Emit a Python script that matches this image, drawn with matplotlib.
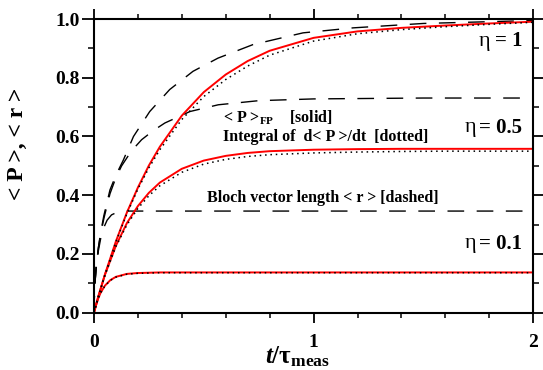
import matplotlib
matplotlib.use("Agg")
import matplotlib.pyplot as plt
from matplotlib.ticker import MultipleLocator

plt.rcParams['font.family'] = ['Liberation Serif', 'DejaVu Serif']
plt.rcParams['font.weight'] = 'bold'
plt.rcParams['mathtext.fontset'] = 'custom'
plt.rcParams['mathtext.rm'] = 'Liberation Serif:bold'
plt.rcParams['mathtext.it'] = 'Liberation Serif:bold:italic'
plt.rcParams['mathtext.bf'] = 'Liberation Serif:bold'

# <P>_FP (solid red) for eta = 1, 0.5, 0.1
t_red = [0, 0.02, 0.05, 0.1, 0.15, 0.2, 0.25, 0.3, 0.4, 0.5, 0.6, 0.7, 0.8,
         1.0, 1.2, 1.4, 1.6, 1.8, 2.0]
p_eta1 = [0, 0.054, 0.130, 0.243, 0.341, 0.426, 0.501, 0.565, 0.671, 0.751,
          0.811, 0.857, 0.892, 0.936, 0.958, 0.970, 0.978, 0.985, 0.991]
p_eta05 = [0, 0.056, 0.129, 0.228, 0.305, 0.363, 0.408, 0.443, 0.490, 0.518,
           0.534, 0.544, 0.550, 0.555, 0.557, 0.558, 0.558, 0.558, 0.558]
t_red01 = [0, 0.01, 0.02, 0.03, 0.05, 0.075, 0.1, 0.15, 0.2, 0.3, 0.5, 1.0, 2.0]
p_eta01 = [0, 0.027, 0.049, 0.067, 0.092, 0.111, 0.122, 0.132, 0.135, 0.137,
           0.137, 0.137, 0.137]

# integral of d<P>/dt (dotted)
i_eta1 = [0, 0.054, 0.129, 0.241, 0.337, 0.421, 0.493, 0.555, 0.658, 0.736,
          0.794, 0.840, 0.877, 0.925, 0.950, 0.964, 0.974, 0.982, 0.989]
i_eta05 = [0, 0.055, 0.127, 0.225, 0.299, 0.355, 0.398, 0.432, 0.478, 0.506,
           0.522, 0.532, 0.538, 0.544, 0.547, 0.549, 0.550, 0.550, 0.550]
i_eta01 = [0, 0.027, 0.048, 0.066, 0.091, 0.110, 0.121, 0.131, 0.134, 0.136,
           0.136, 0.136, 0.136]

# Bloch vector length <r> (dashed)
t_r1 = [0, 0.003, 0.01, 0.02, 0.03, 0.045, 0.073, 0.1, 0.134, 0.18, 0.254,
        0.345, 0.451, 0.565, 0.724, 0.952, 1.18, 1.5, 2.0]
r_eta1 = [0, 0.085, 0.155, 0.22, 0.27, 0.33, 0.418, 0.468, 0.52, 0.60, 0.685,
          0.76, 0.822, 0.867, 0.913, 0.953, 0.970, 0.985, 0.995]
t_r05 = [0, 0.003, 0.01, 0.02, 0.03, 0.045, 0.073, 0.1, 0.126, 0.17, 0.217,
         0.27, 0.323, 0.437, 0.566, 0.75, 1.0, 1.5, 2.0]
r_eta05 = [0, 0.085, 0.155, 0.22, 0.265, 0.32, 0.405, 0.46, 0.50, 0.55, 0.589,
           0.62, 0.646, 0.685, 0.708, 0.722, 0.728, 0.731, 0.731]
t_r01 = [0, 0.003, 0.01, 0.02, 0.03, 0.045, 0.06, 0.08, 0.1, 0.13, 0.16, 0.2, 2.0]
r_eta01 = [0, 0.085, 0.15, 0.21, 0.25, 0.29, 0.315, 0.333, 0.34, 0.344, 0.346,
           0.346, 0.346]

eta_vals = ['1', '0.5', '0.1']
eta_ypos = [0.924, 0.630, 0.234]

fig = plt.figure(figsize=(5.43, 3.70), dpi=100)
ax = fig.add_axes([0.173, 0.155, 0.809, 0.7935])

dash = (0, (12, 9))
dot = (0, (1, 2.5))
for tt, rr in [(t_r1, r_eta1), (t_r05, r_eta05), (t_r01, r_eta01)]:
    ax.plot(tt, rr, color='k', lw=1.0, linestyle=dash)
ax.plot(t_red, p_eta1, color='red', lw=1.4)
ax.plot(t_red, p_eta05, color='red', lw=1.4)
ax.plot(t_red01, p_eta01, color='red', lw=1.4)
ax.plot(t_red, i_eta1, color='k', lw=1.1, linestyle=dot)
ax.plot(t_red, i_eta05, color='k', lw=1.1, linestyle=dot)
ax.plot(t_red01, i_eta01, color='k', lw=1.1, linestyle=dot)

ax.set_xlim(0, 2)
ax.set_ylim(0, 1)
ax.xaxis.set_major_locator(MultipleLocator(1))
ax.xaxis.set_minor_locator(MultipleLocator(0.2))
ax.yaxis.set_major_locator(MultipleLocator(0.2))
ax.yaxis.set_minor_locator(MultipleLocator(0.1))
ax.xaxis.set_major_formatter(plt.FormatStrFormatter('%d'))
ax.yaxis.set_major_formatter(plt.FormatStrFormatter('%.1f'))
for s in ax.spines.values():
    s.set_linewidth(1.5)
ax.tick_params(which='major', direction='out', width=1.3, color='k',
               top=True, right=True)
ax.tick_params(which='minor', direction='out', width=1.1, color='k',
               top=True, right=True)
ax.tick_params(axis='x', which='major', length=7.5, pad=8, labelsize=14)
ax.tick_params(axis='x', which='minor', length=3.8)
ax.tick_params(axis='y', which='major', length=9, pad=1, labelsize=14)
ax.tick_params(axis='y', which='minor', length=4.5)

# curve labels
for i in range(3):
    xe = 1.804 if i == 0 else 1.742
    ax.text(xe, eta_ypos[i], 'η', fontsize=16, fontweight='normal',
            va='center', ha='right')
    ax.text(1.950, eta_ypos[i], '= ' + eta_vals[i], fontsize=15,
            va='center', ha='right')

ax.text(0.586, 0.664, r'< P >$_{\mathrm{FP}}$    [solid]', fontsize=11.5, va='center')
ax.text(0.586, 0.597, 'Integral of  d< P >/dt  [dotted]', fontsize=11.5, va='center')
ax.text(0.513, 0.391, 'Bloch vector length < r > [dashed]', fontsize=11.5, va='center')

fig.text(0.032, 0.612, '< P >, < r >', rotation=90, fontsize=17,
         ha='center', va='center')
fig.text(0.548, 0.036, r'$t/\mathrm{\tau}_{\mathrm{meas}}$', fontsize=18,
         ha='center', va='center')

fig.savefig('out.png', dpi=100)
